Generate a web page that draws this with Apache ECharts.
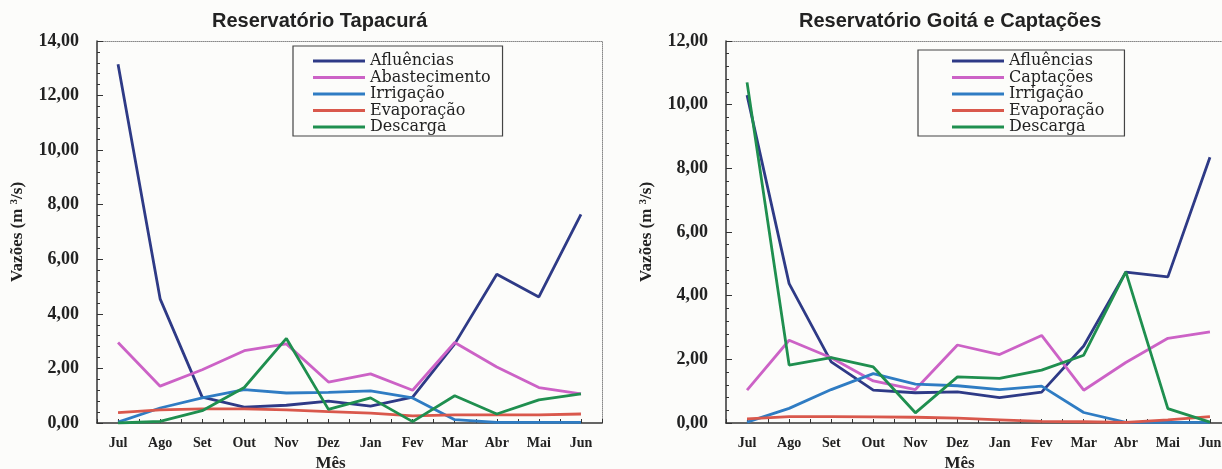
<!DOCTYPE html>
<html>
<head>
<meta charset="utf-8">
<script src="https://cdn.jsdelivr.net/npm/echarts@6/dist/echarts.min.js"></script>
<style>
html,body{margin:0;padding:0;background:#fcfcfa;}
#chart{width:1222px;height:469px;}
</style>
</head>
<body>
<div id="chart"></div>
<script>
// ---- data ----
const months = ['Jul','Ago','Set','Out','Nov','Dez','Jan','Fev','Mar','Abr','Mai','Jun'];

// Reservatório Tapacurá
const tapAfluencias    = [13.15, 4.55, 0.95, 0.58, 0.65, 0.80, 0.62, 0.95, 2.90, 5.45, 4.62, 7.65];
const tapAbastecimento = [2.95, 1.35, 1.95, 2.65, 2.90, 1.50, 1.80, 1.20, 2.95, 2.05, 1.30, 1.07];
const tapIrrigacao     = [0.03, 0.55, 0.92, 1.22, 1.10, 1.12, 1.18, 0.92, 0.12, 0.02, 0.02, 0.02];
const tapEvaporacao    = [0.38, 0.48, 0.52, 0.52, 0.48, 0.42, 0.36, 0.26, 0.30, 0.30, 0.30, 0.33];
const tapDescarga      = [0.00, 0.06, 0.45, 1.30, 3.10, 0.50, 0.92, 0.05, 1.00, 0.33, 0.85, 1.07];

// Reservatório Goitá e Captações
const goiAfluencias = [10.30, 4.38, 1.92, 1.03, 0.95, 0.98, 0.80, 0.97, 2.42, 4.74, 4.59, 8.35];
const goiCaptacoes  = [1.03, 2.60, 2.05, 1.32, 1.05, 2.45, 2.15, 2.75, 1.03, 1.90, 2.66, 2.86];
const goiIrrigacao  = [0.03, 0.46, 1.05, 1.55, 1.22, 1.17, 1.05, 1.16, 0.33, 0.02, 0.02, 0.02];
const goiEvaporacao = [0.13, 0.20, 0.20, 0.19, 0.18, 0.15, 0.10, 0.05, 0.04, 0.02, 0.10, 0.20];
const goiDescarga   = [10.70, 1.82, 2.05, 1.76, 0.32, 1.45, 1.40, 1.66, 2.13, 4.75, 0.45, 0.03];

const yTicksTap = {min: 0, max: 14, interval: 2};
const yTicksGoi = {min: 0, max: 12, interval: 2};

// ---- styles ----
const C = {
  afl: '#2e3a86', abs: '#cc62c6', irr: '#2f7cc3', eva: '#d9584c', des: '#1f8f4f'
};
const serif = 'Liberation Serif';
const fmt = v => v.toFixed(2).replace('.', ',');

function mainX(gi) {
  return {
    gridIndex: gi, type: 'category', data: months, boundaryGap: true,
    axisLine: {show: true, lineStyle: {color: '#333', width: 1.5}},
    axisTick: {show: true, inside: true, length: 4, lineStyle: {color: '#333'}},
    axisLabel: {margin: 13, fontFamily: serif, fontWeight: 'bold', fontSize: 14, color: '#222'},
    name: 'Mês', nameLocation: 'middle', nameGap: 30,
    nameTextStyle: {fontFamily: serif, fontWeight: 'bold', fontSize: 17, color: '#222', padding: [0, 38, 0, 0]},
    splitLine: {show: false}
  };
}
function tickX(gi) {
  return {
    gridIndex: gi, type: 'category', data: months, boundaryGap: true, position: 'bottom', offset: 0,
    axisLine: {show: false},
    axisTick: {show: true, inside: true, alignWithLabel: true, length: 4, lineStyle: {color: '#333'}},
    axisLabel: {show: false}, splitLine: {show: false}
  };
}
function topX(gi) {
  return {
    gridIndex: gi, type: 'category', data: months, position: 'top',
    axisLine: {show: true, lineStyle: {color: '#888', type: 'dotted', width: 1}},
    axisTick: {show: false}, axisLabel: {show: false}, splitLine: {show: false}
  };
}
function mainY(gi, t) {
  return {
    gridIndex: gi, type: 'value', min: t.min, max: t.max, interval: t.interval,
    axisLine: {show: true, lineStyle: {color: '#333', width: 1.5}},
    axisTick: {show: true, inside: true, length: 6, lineStyle: {color: '#333'}},
    minorTick: {show: true, splitNumber: 5, length: 3, lineStyle: {color: '#333'}},
    axisLabel: {margin: 18, formatter: fmt, fontFamily: serif, fontWeight: 'bold', fontSize: 18, color: '#222'},
    splitLine: {show: false},
    name: 'Vazões (m {s|3}/s)', nameLocation: 'middle', nameGap: 71,
    nameTextStyle: {
      fontFamily: serif, fontWeight: 'bold', fontSize: 17, color: '#222', lineHeight: 17,
      rich: {s: {fontFamily: serif, fontWeight: 'bold', fontSize: 11, color: '#222', verticalAlign: 'top', lineHeight: 17}}
    }
  };
}
function rightY(gi, t) {
  return {
    gridIndex: gi, type: 'value', min: t.min, max: t.max, interval: t.interval, position: 'right',
    axisLine: {show: true, lineStyle: {color: '#888', type: 'dotted', width: 1}},
    axisTick: {show: false}, axisLabel: {show: false}, splitLine: {show: false}
  };
}
function line(name, data, color, xi, yi) {
  return {
    name, type: 'line', data, xAxisIndex: xi, yAxisIndex: yi,
    symbol: 'none', smooth: false,
    lineStyle: {color, width: 2.8}, itemStyle: {color}, z: 3
  };
}
function legend(names, left, top, padding) {
  return {
    orient: 'vertical', left, top, data: names, padding,
    icon: 'rect', itemWidth: 52, itemHeight: 3, itemGap: 0.5,
    borderColor: '#444', borderWidth: 1.2, backgroundColor: '#fcfcfa',
    textStyle: {fontFamily: 'DejaVu Serif', fontSize: 16, color: '#222'}
  };
}

const chart = echarts.init(document.getElementById('chart'));
chart.setOption({
  backgroundColor: '#fcfcfa',
  animation: false,
  title: [
    {text: 'Reservatório Tapacurá', left: 212, top: 11, padding: 0,
     textStyle: {fontFamily: 'Liberation Sans', fontWeight: 'bold', fontSize: 20, color: '#222'}},
    {text: 'Reservatório Goitá e Captações', left: 799, top: 11, padding: 0,
     textStyle: {fontFamily: 'Liberation Sans', fontWeight: 'bold', fontSize: 20, color: '#222'}}
  ],
  legend: [
    legend(['Afluências','Abastecimento','Irrigação','Evaporação','Descarga'], 293, 46, [7, 12, 1, 20]),
    legend(['Afluências','Captações','Irrigação','Evaporação','Descarga'], 918, 50, [3, 20, 1, 34])
  ],
  grid: [
    {left: 97, top: 41, width: 505, height: 382, containLabel: false, outerBoundsMode: 'none'},
    {left: 726, top: 41, width: 505, height: 382, containLabel: false, outerBoundsMode: 'none'}
  ],
  xAxis: [mainX(0), tickX(0), topX(0), mainX(1), tickX(1), topX(1)],
  yAxis: [mainY(0, yTicksTap), rightY(0, yTicksTap), mainY(1, yTicksGoi), rightY(1, yTicksGoi)],
  series: [
    line('Afluências', tapAfluencias, C.afl, 0, 0),
    line('Abastecimento', tapAbastecimento, C.abs, 0, 0),
    line('Irrigação', tapIrrigacao, C.irr, 0, 0),
    line('Evaporação', tapEvaporacao, C.eva, 0, 0),
    line('Descarga', tapDescarga, C.des, 0, 0),
    line('Afluências', goiAfluencias, C.afl, 3, 2),
    line('Captações', goiCaptacoes, C.abs, 3, 2),
    line('Irrigação', goiIrrigacao, C.irr, 3, 2),
    line('Evaporação', goiEvaporacao, C.eva, 3, 2),
    line('Descarga', goiDescarga, C.des, 3, 2)
  ]
});
</script>
</body>
</html>
